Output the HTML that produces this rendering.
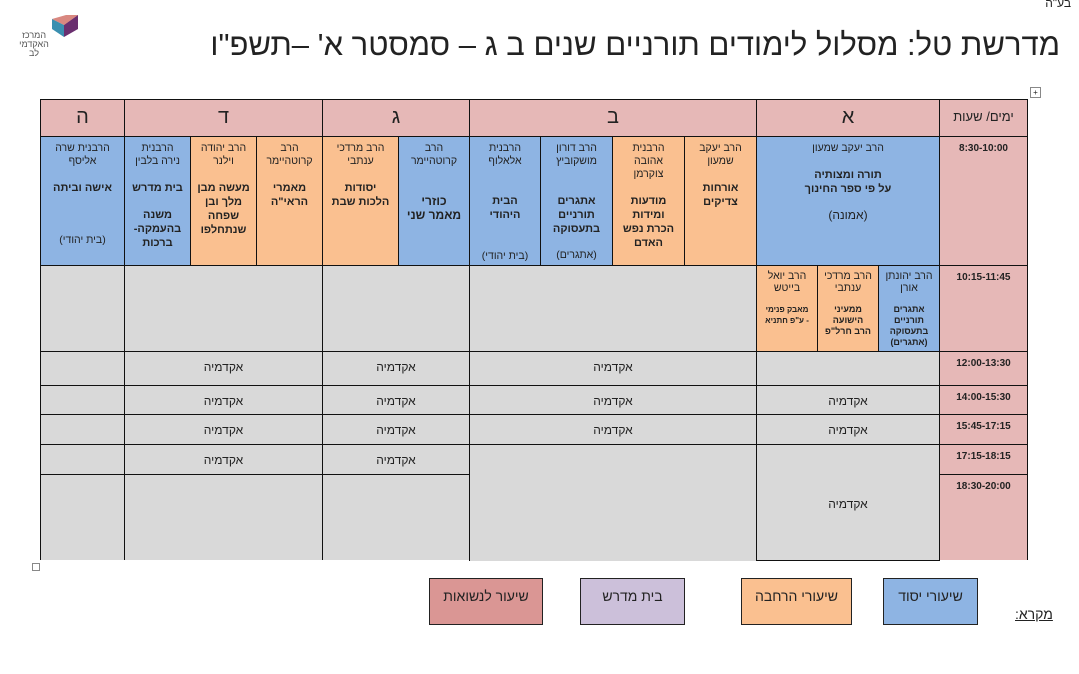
<!DOCTYPE html>
<html><head><meta charset="utf-8"><style>
body{margin:0;width:1079px;height:674px;background:#fff;position:relative;overflow:hidden;font-family:"Liberation Sans","DejaVu Sans",sans-serif;color:#222}
.c{position:absolute;box-sizing:border-box;border:1px solid #111;direction:rtl;text-align:center;font-size:10.5px;line-height:13px;padding:5px 3px 0;overflow:hidden}
.p{background:#e6b8b7}.b{background:#8eb4e3}.o{background:#fac090}.g{background:#d9d9d9}
.h{font-size:20px;line-height:34px;padding:0}
.t{font-weight:bold;font-size:10px;padding-top:5px}
b{display:block;font-size:11px;line-height:14px}
.ak{font-size:12px;line-height:14px;padding-top:8px}
.sm{line-height:12px;padding-top:4px}
.sm b{font-size:9px;line-height:11px}
.gap{display:block;height:10px}
.lg{position:absolute;box-sizing:border-box;border:1px solid #222;direction:rtl;text-align:center;font-size:14px;padding-top:9px;top:578px;height:47px}
</style></head><body>
<div style="position:absolute;right:8px;top:-4px;font-size:12px;direction:rtl">בע"ה</div>
<svg style="position:absolute;left:52px;top:15px" width="28" height="22"><polygon points="0,4 12,10 12,22 0,14" fill="#3a8fb0"/><polygon points="12,10 26,0 26,14 12,22" fill="#6a2f6f"/><polygon points="0,4 12,10 26,0 14,0" fill="#c0392b" opacity=".6"/></svg>
<div style="position:absolute;left:14px;top:31px;width:40px;font-size:9px;line-height:9px;color:#555;direction:rtl;text-align:center">המרכז<br>האקדמי<br>לב</div>
<div style="position:absolute;right:19px;top:27px;font-size:31px;direction:rtl;white-space:nowrap">מדרשת טל: מסלול לימודים תורניים שנים ב ג – סמסטר א' –תשפ"ו</div>
<div style="position:absolute;left:1030px;top:87px;width:9px;height:9px;border:1px solid #888;font-size:8px;line-height:9px;text-align:center">+</div>

<div class="c p h" style="left:939px;top:99px;width:89px;height:38px;font-size:13px">ימים/ שעות</div>
<div class="c p h" style="left:756px;top:99px;width:184px;height:38px">א</div>
<div class="c p h" style="left:469px;top:99px;width:288px;height:38px">ב</div>
<div class="c p h" style="left:322px;top:99px;width:148px;height:38px">ג</div>
<div class="c p h" style="left:124px;top:99px;width:199px;height:38px">ד</div>
<div class="c p h" style="left:40px;top:99px;width:85px;height:38px">ה</div>

<div class="c p t" style="left:939px;top:136px;width:89px;height:130px">8:30-10:00</div>
<div class="c b" style="left:756px;top:136px;width:184px;height:130px">הרב יעקב שמעון<br><br><b>תורה ומצותיה<br>על פי ספר החינוך</b><br><span style="font-size:12px">(אמונה)</span></div>
<div class="c o" style="left:684px;top:136px;width:73px;height:130px">הרב יעקב<br>שמעון<br><br><b>אורחות<br>צדיקים</b></div>
<div class="c o" style="left:612px;top:136px;width:73px;height:130px">הרבנית<br>אהובה<br>צוקרמן<br><br><b>מודעות<br>ומידות<br>הכרת נפש<br>האדם</b></div>
<div class="c b" style="left:540px;top:136px;width:73px;height:130px">הרב דורון<br>מושקוביץ<br><br><br><b>אתגרים<br>תורניים<br>בתעסוקה</b><br>(אתגרים)</div>
<div class="c b" style="left:469px;top:136px;width:72px;height:130px">הרבנית<br>אלאלוף<br><br><br><b>הבית<br>היהודי</b><div style="position:absolute;bottom:2px;left:0;right:0">(בית יהודי)</div></div>
<div class="c b" style="left:398px;top:136px;width:72px;height:130px">הרב<br>קרוטהיימר<br><br><br><b style="font-size:12px">כוזרי<br>מאמר שני</b></div>
<div class="c o" style="left:322px;top:136px;width:77px;height:130px">הרב מרדכי<br>ענתבי<br><br><b>יסודות<br>הלכות שבת</b></div>
<div class="c o" style="left:256px;top:136px;width:67px;height:130px">הרב<br>קרוטהיימר<br><br><b>מאמרי<br>הראי"ה</b></div>
<div class="c o" style="left:190px;top:136px;width:67px;height:130px">הרב יהודה<br>וילנר<br><br><b>מעשה מבן<br>מלך ובן<br>שפחה<br>שנתחלפו</b></div>
<div class="c b" style="left:124px;top:136px;width:67px;height:130px">הרבנית<br>נירה בלבין<br><br><b>בית מדרש</b><br><b>משנה<br>בהעמקה-<br>ברכות</b></div>
<div class="c b" style="left:40px;top:136px;width:85px;height:130px">הרבנית שרה<br>אליסף<br><br><b>אישה וביתה</b><br><br><br>(בית יהודי)</div>

<div class="c p t" style="left:939px;top:265px;width:89px;height:87px">10:15-11:45</div>
<div class="c b sm" style="left:878px;top:265px;width:62px;height:87px">הרב יהונתן<br>אורן<span class="gap"></span><b>אתגרים<br>תורניים<br>בתעסוקה<br>(אתגרים)</b></div>
<div class="c o sm" style="left:817px;top:265px;width:62px;height:87px">הרב מרדכי<br>ענתבי<span class="gap"></span><b>ממעיני<br>הישועה<br>הרב חרל"פ</b></div>
<div class="c o sm" style="left:756px;top:265px;width:62px;height:87px">הרב יואל<br>בייטש<span class="gap"></span><b style="font-size:8px">מאבק פנימי<br>- ע"פ חתניא</b></div>
<div class="c g" style="left:469px;top:265px;width:288px;height:87px"></div>
<div class="c g" style="left:322px;top:265px;width:148px;height:87px"></div>
<div class="c g" style="left:124px;top:265px;width:199px;height:87px"></div>
<div class="c g" style="left:40px;top:265px;width:85px;height:87px"></div>

<div class="c p t" style="left:939px;top:351px;width:89px;height:35px">12:00-13:30</div>
<div class="c g" style="left:756px;top:351px;width:184px;height:35px"></div>
<div class="c g ak" style="left:469px;top:351px;width:288px;height:35px">אקדמיה</div>
<div class="c g ak" style="left:322px;top:351px;width:148px;height:35px">אקדמיה</div>
<div class="c g ak" style="left:124px;top:351px;width:199px;height:35px">אקדמיה</div>
<div class="c g" style="left:40px;top:351px;width:85px;height:35px"></div>

<div class="c p t" style="left:939px;top:385px;width:89px;height:30px">14:00-15:30</div>
<div class="c g ak" style="left:756px;top:385px;width:184px;height:30px">אקדמיה</div>
<div class="c g ak" style="left:469px;top:385px;width:288px;height:30px">אקדמיה</div>
<div class="c g ak" style="left:322px;top:385px;width:148px;height:30px">אקדמיה</div>
<div class="c g ak" style="left:124px;top:385px;width:199px;height:30px">אקדמיה</div>
<div class="c g" style="left:40px;top:385px;width:85px;height:30px"></div>

<div class="c p t" style="left:939px;top:414px;width:89px;height:31px">15:45-17:15</div>
<div class="c g ak" style="left:756px;top:414px;width:184px;height:31px">אקדמיה</div>
<div class="c g ak" style="left:469px;top:414px;width:288px;height:31px">אקדמיה</div>
<div class="c g ak" style="left:322px;top:414px;width:148px;height:31px">אקדמיה</div>
<div class="c g ak" style="left:124px;top:414px;width:199px;height:31px">אקדמיה</div>
<div class="c g" style="left:40px;top:414px;width:85px;height:31px"></div>

<div class="c p t" style="left:939px;top:444px;width:89px;height:31px">17:15-18:15</div>
<div class="c g" style="left:756px;top:444px;width:184px;height:117px;padding-top:53px;font-size:12px">אקדמיה</div>
<div class="c g" style="left:469px;top:444px;width:288px;height:117px;border-bottom:none"></div>
<div class="c g ak" style="left:322px;top:444px;width:148px;height:31px">אקדמיה</div>
<div class="c g ak" style="left:124px;top:444px;width:199px;height:31px">אקדמיה</div>
<div class="c g" style="left:40px;top:444px;width:85px;height:31px"></div>

<div class="c p t" style="left:939px;top:474px;width:89px;height:86px;border-bottom:none">18:30-20:00</div>
<div class="c g" style="left:322px;top:474px;width:148px;height:86px;border-bottom:none"></div>
<div class="c g" style="left:124px;top:474px;width:199px;height:86px;border-bottom:none"></div>
<div class="c g" style="left:40px;top:474px;width:85px;height:86px;border-bottom:none"></div>
<div style="position:absolute;left:32px;top:563px;width:6px;height:6px;border:1px solid #888"></div>

<div class="lg" style="left:429px;width:114px;background:#da9694">שיעור לנשואות</div>
<div class="lg" style="left:580px;width:105px;background:#ccc0da">בית מדרש</div>
<div class="lg" style="left:741px;width:111px;background:#fac090">שיעורי הרחבה</div>
<div class="lg" style="left:883px;width:95px;background:#8eb4e3">שיעורי יסוד</div>
<div style="position:absolute;left:1015px;top:606px;font-size:14px;text-decoration:underline;direction:rtl">מקרא:</div>
</body></html>
